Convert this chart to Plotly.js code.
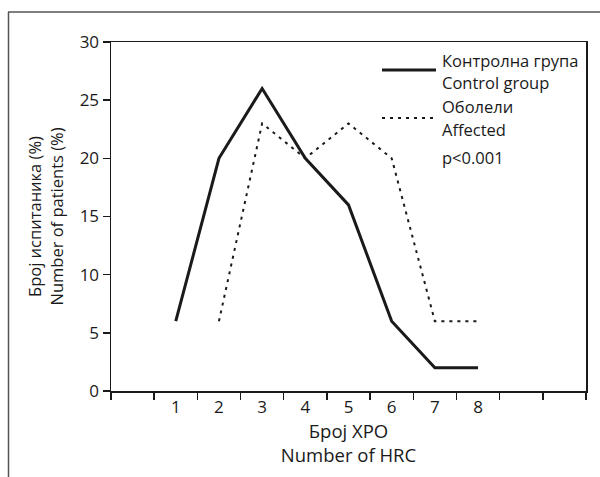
<!DOCTYPE html>
<html>
<head>
<meta charset="utf-8">
<script src="https://cdn.plot.ly/plotly-3.0.1.min.js"></script>
<style>
html,body{margin:0;padding:0;background:#fff;}
#chart{width:600px;height:477px;}
</style>
</head>
<body>
<div id="chart"></div>
<script>
// ---- data ----
const hrcNumber = [1, 2, 3, 4, 5, 6, 7, 8];
const xTickLabels = ["1", "2", "3", "4", "5", "6", "7", "8"];
const yTickValues = [0, 5, 10, 15, 20, 25, 30];
const controlX = [1, 2, 3, 4, 5, 6, 7, 8];
const controlPct = [6, 20, 26, 20, 16, 6, 2, 2];
const affectedX = [2, 3, 4, 5, 6, 7, 8];
const affectedPct = [6, 23, 20, 23, 20, 6, 6];
const controlName = ["Контролна група", "Control group"];
const affectedName = ["Оболели", "Affected"];
const pValueText = "p<0.001";
const yTitle = "Број испитаника (%)<br>Number of patients (%)";
const xTitle = "Број ХРО<br>Number of HRC";

// ---- layout helpers ----
const W = 600, H = 477;
const M = {l: 111, r: 14, t: 42, b: 86};
const pw = W - M.l - M.r, ph = H - M.t - M.b;
const px2x = p => (p - M.l) / pw;
const py2y = p => (H - M.b - p) / ph;

const FONT = "Open Sans, Noto Sans, sans-serif";
const INK = "#1a1a1a";

// category boundaries for tick marks
const boundaries = [];
for (let v = -0.5; v <= 10.5; v += 1) boundaries.push(v);

const traces = [
  {x: controlX, y: controlPct, type: "scatter", mode: "lines",
   line: {color: INK, width: 3}, name: controlName.join(" "), showlegend: false},
  {x: affectedX, y: affectedPct, type: "scatter", mode: "lines",
   line: {color: INK, width: 2, dash: "3px,5px"}, name: affectedName.join(" "), showlegend: false}
];

const shapes = [
  // outer figure frame
  {type: "line", xref: "paper", yref: "paper", x0: px2x(8.5), x1: px2x(8.5), y0: py2y(12), y1: py2y(477), line: {color: "#555", width: 1.5}},
  {type: "line", xref: "paper", yref: "paper", x0: px2x(8), x1: px2x(600), y0: py2y(12), y1: py2y(12), line: {color: "#555", width: 1.5}},
  // legend samples
  {type: "line", xref: "paper", yref: "paper", x0: px2x(382), x1: px2x(436), y0: py2y(70), y1: py2y(70), line: {color: INK, width: 3}},
  {type: "line", xref: "paper", yref: "paper", x0: px2x(382), x1: px2x(436), y0: py2y(118), y1: py2y(118), line: {color: INK, width: 2, dash: "3px,5px"}}
];

const ann = (txt, py) => ({text: txt, xref: "paper", yref: "paper", x: px2x(440), y: py2y(py),
  xanchor: "left", yanchor: "middle", showarrow: false, font: {family: FONT, size: 16.5, color: INK}});
const annotations = [
  ann(controlName[0], 60), ann(controlName[1], 82),
  ann(affectedName[0], 107), ann(affectedName[1], 129),
  ann(pValueText, 157)
];

const layout = {
  width: W, height: H,
  margin: M,
  paper_bgcolor: "#fff", plot_bgcolor: "#fff",
  font: {family: FONT, size: 17, color: INK},
  showlegend: false,
  xaxis: {
    range: [-0.5, 10.5], tickmode: "array", tickvals: hrcNumber, ticktext: xTickLabels,
    ticks: "", showgrid: false, zeroline: false,
    showline: true, linecolor: INK, linewidth: 1.5, mirror: true,
    minor: {tickmode: "array", tickvals: boundaries, ticks: "outside", ticklen: 7, tickwidth: 1.5, tickcolor: INK, showgrid: false},
    tickfont: {family: FONT, size: 17, color: INK},
    title: {text: xTitle, font: {family: FONT, size: 18.5, color: INK}, standoff: 8},
    automargin: false, fixedrange: true
  },
  yaxis: {
    range: [0, 30], tickmode: "array", tickvals: yTickValues,
    ticks: "outside", ticklen: 7, tickwidth: 1.5, tickcolor: INK,
    showgrid: false, zeroline: false,
    showline: true, linecolor: INK, linewidth: 1.5, mirror: true,
    tickfont: {family: FONT, size: 17, color: INK},
    title: {text: yTitle, font: {family: FONT, size: 16.5, color: INK}, standoff: 12},
    automargin: false, fixedrange: true
  },
  shapes: shapes,
  annotations: annotations
};

Plotly.newPlot("chart", traces, layout, {staticPlot: true, displayModeBar: false});
</script>
</body>
</html>
